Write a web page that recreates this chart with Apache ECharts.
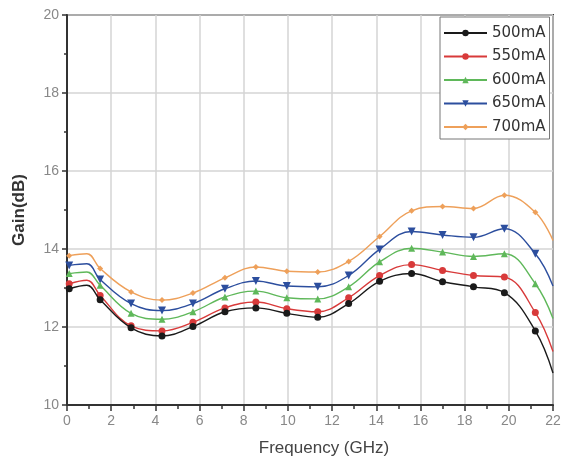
<!DOCTYPE html>
<html>
<head>
<meta charset="utf-8">
<script src="https://cdn.jsdelivr.net/npm/echarts@6/dist/echarts.min.js"></script>
<style>html,body{margin:0;padding:0;background:#fff}#c{width:564px;height:462px}</style>
</head>
<body>
<div id="c"></div>
<script>
// Marker frequencies (GHz)
var freqs = [0.1, 1.5, 2.9, 4.3, 5.7, 7.15, 8.55, 9.95, 11.35, 12.75, 14.15, 15.6, 17.0, 18.4, 19.8, 21.2];
// Extra points on the curves without markers
var lineOnlyFreqs = [0.9, 22];

var seriesNames = ['500mA', '550mA', '600mA', '650mA', '700mA'];

var gain500 = [12.98, 12.70, 11.98, 11.77, 12.01, 12.39, 12.49, 12.35, 12.25, 12.60, 13.17, 13.37, 13.16, 13.03, 12.88, 11.90];
var gain550 = [13.11, 12.81, 12.03, 11.90, 12.12, 12.49, 12.64, 12.47, 12.39, 12.75, 13.32, 13.60, 13.45, 13.32, 13.28, 12.37];
var gain600 = [13.37, 13.07, 12.35, 12.20, 12.39, 12.77, 12.92, 12.75, 12.72, 13.03, 13.67, 14.02, 13.92, 13.81, 13.88, 13.11];
var gain650 = [13.58, 13.22, 12.60, 12.42, 12.60, 12.98, 13.18, 13.05, 13.03, 13.32, 13.99, 14.45, 14.36, 14.30, 14.52, 13.88];
var gain700 = [13.83, 13.50, 12.90, 12.69, 12.87, 13.26, 13.54, 13.43, 13.41, 13.68, 14.32, 14.98, 15.09, 15.04, 15.38, 14.94];

var lineOnly500 = [13.07, 10.82];
var lineOnly550 = [13.20, 11.37];
var lineOnly600 = [13.41, 12.22];
var lineOnly650 = [13.62, 13.05];
var lineOnly700 = [13.88, 14.22];

var xTicks = [0, 2, 4, 6, 8, 10, 12, 14, 16, 18, 20, 22];
var yTicks = [10, 12, 14, 16, 18, 20];

var allGain = [gain500, gain550, gain600, gain650, gain700];
var allLineOnly = [lineOnly500, lineOnly550, lineOnly600, lineOnly650, lineOnly700];

var colors = ['#1a1a1a', '#d83a3a', '#5fb85a', '#2c4e9e', '#eea05a'];
var symbols = ['circle', 'circle', 'triangle', 'triangle', 'diamond'];
var rotates = [0, 0, 0, 180, 0];
var sizes = [7, 7, 7, 8, 6];

function buildData(vals, extra) {
  var pts = [];
  for (var i = 0; i < freqs.length; i++) pts.push({value: [freqs[i], vals[i]]});
  for (var j = 0; j < lineOnlyFreqs.length; j++) pts.push({value: [lineOnlyFreqs[j], extra[j]], symbol: 'none'});
  pts.sort(function (a, b) { return a.value[0] - b.value[0]; });
  return pts;
}

var series = seriesNames.map(function (n, k) {
  return {
    name: n,
    type: 'line',
    smooth: 0.4,
    data: buildData(allGain[k], allLineOnly[k]),
    symbol: symbols[k],
    symbolRotate: rotates[k],
    symbolSize: sizes[k],
    showAllSymbol: true,
    lineStyle: {color: colors[k], width: 1.4},
    itemStyle: {color: colors[k]},
    z: 10 - k
  };
});

var chart = echarts.init(document.getElementById('c'), null, {renderer: 'canvas'});
chart.setOption({
  animation: false,
  backgroundColor: '#fff',
  grid: {left: 67, right: 11, top: 15, bottom: 55, show: true, borderColor: '#333', borderWidth: 2, backgroundColor: 'transparent'},
  legend: {
    orient: 'vertical',
    left: 440,
    top: 17,
    padding: [8, 4, 4, 3],
    itemWidth: 43,
    itemHeight: 8,
    itemGap: 7.5,
    borderColor: '#777',
    borderWidth: 1,
    backgroundColor: '#fff',
    textStyle: {fontFamily: 'DejaVu Sans', fontSize: 15, color: '#333', lineHeight: 16},
    data: seriesNames
  },
  xAxis: {
    type: 'value',
    min: 0, max: 22, interval: 2,
    name: 'Frequency (GHz)',
    nameLocation: 'middle',
    nameGap: 35,
    nameTextStyle: {fontFamily: 'Liberation Sans, Arial', fontSize: 17, color: '#444', padding: [0, 0, 0, 28]},
    axisLine: {show: true, lineStyle: {color: '#333', width: 2}},
    axisTick: {show: true, length: 6, lineStyle: {color: '#333', width: 1.5}},
    minorTick: {show: true, splitNumber: 2, length: 4, lineStyle: {color: '#333', width: 1.5}},
    axisLabel: {fontFamily: 'Liberation Sans, Arial', fontSize: 14, color: '#888', margin: 9,
      formatter: function (v) { return xTicks.indexOf(v) >= 0 ? String(v) : ''; }},
    splitLine: {show: true, lineStyle: {color: '#d4d4d4', width: 1.5}}
  },
  yAxis: {
    type: 'value',
    min: 10, max: 20, interval: 2,
    name: 'Gain(dB)',
    nameLocation: 'middle',
    nameGap: 39,
    nameTextStyle: {fontFamily: 'Liberation Sans, Arial', fontSize: 17, fontWeight: 'bold', color: '#333'},
    axisLine: {show: true, lineStyle: {color: '#333', width: 2}},
    axisTick: {show: true, length: 5, lineStyle: {color: '#333', width: 1.5}},
    minorTick: {show: true, splitNumber: 2, length: 3, lineStyle: {color: '#333', width: 1.5}},
    axisLabel: {fontFamily: 'Liberation Sans, Arial', fontSize: 14, color: '#888', margin: 8,
      formatter: function (v) { return yTicks.indexOf(v) >= 0 ? String(v) : ''; }},
    splitLine: {show: true, lineStyle: {color: '#d4d4d4', width: 1.5}}
  },
  series: series
});
</script>
</body>
</html>
